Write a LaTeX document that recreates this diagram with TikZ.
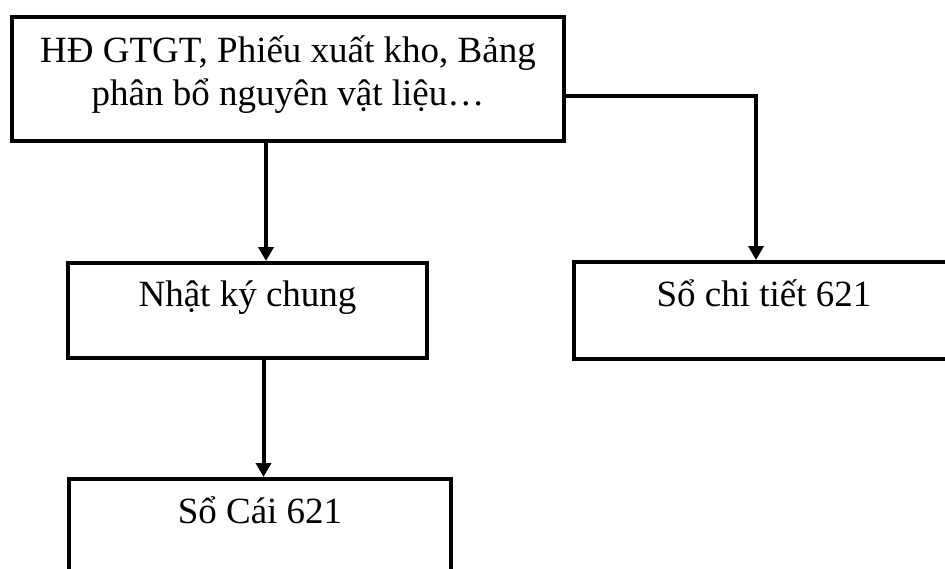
\documentclass[tikz,border=0pt]{standalone}
\usepackage{fontspec}
\setmainfont{Liberation Serif}
\usetikzlibrary{arrows.meta}
\begin{document}
\begin{tikzpicture}[x=1pt, y=-1pt,
  box/.style={draw=black, line width=4pt, rectangle, inner sep=0pt, fill=white},
  lbl/.style={anchor=base, inner sep=0pt, font=\fontsize{37}{43}\selectfont},
  flow/.style={draw=black, line width=4pt, -{Triangle[width=15pt, length=14pt]}}]
  \useasboundingbox (0,0) rectangle (945,568);
  \clip (0,0) rectangle (945,568);

  % boxes
  \node[box, minimum width=552pt, minimum height=124pt] (src) at (288,79) {};
  \node[box, minimum width=359pt, minimum height=95pt] (nkc) at (247.5,310.5) {};
  \node[box, minimum width=380pt, minimum height=97pt] (sct) at (764,310.5) {};
  \node[box, minimum width=382pt, minimum height=95pt] (sc) at (260,526.5) {};

  % box texts
  \node[lbl] (src1) at ([yshift=-47pt]src.north) {HĐ GTGT, Phiếu xuất kho, Bảng};
  \node[lbl] (src2) at ([yshift=-90pt]src.north) {phân bổ nguyên vật liệu…};
  \node[lbl] (nkct) at ([yshift=-45pt]nkc.north) {Nhật ký chung};
  \node[lbl] (sctt) at ([yshift=-46pt]sct.north) {Sổ chi tiết 621};
  \node[lbl] (sct2) at ([yshift=-46pt]sc.north) {Sổ Cái 621};

  % connectors
  \coordinate (a1) at ([xshift=-22pt]src.south);
  \draw[flow] (a1) -- (a1 |- nkc.north);
  \coordinate (a2) at ([yshift=-17pt]src.east);
  \coordinate (a2t) at ([xshift=-8pt]sct.north);
  \draw[flow] (a2) -| (a2t);
  \coordinate (a3) at ([xshift=16pt]nkc.south);
  \draw[flow] (a3) -- (a3 |- sc.north);
\end{tikzpicture}
\end{document}
